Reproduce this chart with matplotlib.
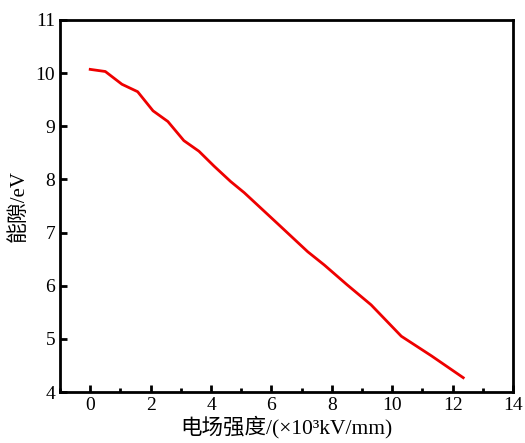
import matplotlib
matplotlib.use("Agg")
import matplotlib.pyplot as plt
from matplotlib.ticker import MultipleLocator

# field strength (x10^3 kV/mm) and band gap (eV)
field = [0.0, 0.5, 1.05, 1.57, 2.08, 2.57, 3.1, 3.6, 4.1, 4.65, 5.1, 6.2,
         7.2, 7.75, 8.5, 9.3, 10.3, 11.3, 12.35]
gap = [10.07, 10.03, 9.79, 9.65, 9.29, 9.09, 8.73, 8.53, 8.25, 7.96, 7.75, 7.17,
       6.64, 6.39, 6.02, 5.64, 5.05, 4.68, 4.27]

xticks = [0, 2, 4, 6, 8, 10, 12, 14]
yticks = [4, 5, 6, 7, 8, 9, 10, 11]

plt.rcParams['font.family'] = ['Liberation Serif', 'Noto Sans CJK SC']
plt.rcParams['font.size'] = 14

fig = plt.figure(figsize=(5.25, 4.43), dpi=100)
ax = fig.add_axes([0.1143, 0.115, 0.863, 0.84])

ax.plot(field, gap, color='#ee0000', linewidth=2.0)

ax.set_xlim(-1, 14)
ax.set_ylim(4, 11)
ax.set_xticks(xticks)
ax.set_yticks(yticks)
ax.xaxis.set_minor_locator(MultipleLocator(1))

for side in ['left', 'right', 'top', 'bottom']:
    ax.spines[side].set_linewidth(2.0)

ax.tick_params(which='major', direction='in', length=5, width=2, labelsize=14)
ax.tick_params(which='minor', direction='in', length=3, width=2)
ax.tick_params(axis='x', which='both', top=False)
ax.tick_params(axis='y', which='both', right=False)

ax.set_xlabel('电场强度/(×10³kV/mm)', fontsize=15.5, labelpad=1)
ax.set_ylabel('能隙/eV', fontsize=15, labelpad=5)

fig.savefig('out.png', dpi=100)
